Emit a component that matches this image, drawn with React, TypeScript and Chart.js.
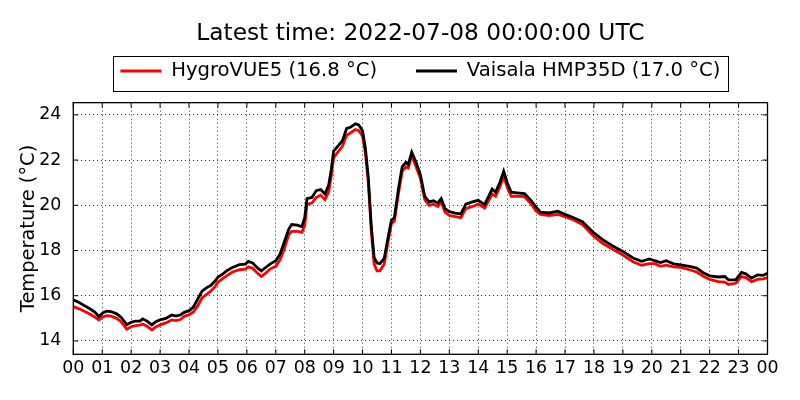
import { useEffect, useRef } from 'react';
import { Chart, registerables, type Plugin } from 'chart.js';

Chart.register(...registerables);

// hours since 2022-07-07 00:00 UTC
const times = [
  0, 0.2, 0.4, 0.6, 0.75, 0.88, 1, 1.15, 1.3, 1.5,
  1.65, 1.85, 2, 2.15, 2.3, 2.4, 2.55, 2.72, 2.85, 3,
  3.2, 3.4, 3.55, 3.7, 3.85, 4, 4.15, 4.3, 4.45, 4.6,
  4.75, 4.9, 5, 5.15, 5.3, 5.5, 5.75, 5.95, 6.05, 6.2,
  6.35, 6.5, 6.65, 6.8, 7, 7.15, 7.3, 7.45, 7.55, 7.75,
  7.9, 8, 8.08, 8.25, 8.4, 8.55, 8.7, 8.83, 8.92, 9,
  9.17, 9.3, 9.45, 9.58, 9.75, 9.87, 10, 10.1, 10.2, 10.3,
  10.4, 10.5, 10.6, 10.75, 10.87, 11, 11.1, 11.25, 11.37, 11.5,
  11.58, 11.7, 11.85, 12, 12.15, 12.3, 12.45, 12.6, 12.72, 12.85,
  13, 13.2, 13.4, 13.57, 13.8, 14, 14.22, 14.48, 14.6, 14.76,
  14.88, 15, 15.14, 15.35, 15.6, 15.8, 16, 16.15, 16.45, 16.75,
  17, 17.3, 17.6, 18, 18.3, 18.65, 19, 19.35, 19.65, 19.92,
  20.1, 20.3, 20.5, 20.75, 21, 21.3, 21.55, 21.8, 22, 22.3,
  22.53, 22.65, 22.9, 23.1, 23.25, 23.45, 23.65, 23.85, 24,
];

const hygroVUE5 = [
  15.52, 15.42, 15.30, 15.17, 15.05, 14.93, 15.05, 15.12, 15.10, 15.00,
  14.85, 14.52, 14.63, 14.68, 14.70, 14.75, 14.65, 14.49, 14.62, 14.71,
  14.80, 14.93, 14.90, 14.95, 15.10, 15.15, 15.28, 15.55, 15.90, 16.05,
  16.20, 16.40, 16.60, 16.75, 16.88, 17.05, 17.15, 17.18, 17.28, 17.22,
  17.02, 16.85, 17.00, 17.18, 17.30, 17.60, 18.10, 18.70, 18.85, 18.85,
  18.80, 19.10, 20.05, 20.10, 20.35, 20.45, 20.25, 20.60, 21.30, 22.10,
  22.40, 22.60, 23.10, 23.20, 23.35, 23.30, 23.05, 22.30, 21.00, 18.90,
  17.40, 17.10, 17.10, 17.40, 18.30, 19.20, 19.30, 20.60, 21.50, 21.70,
  21.65, 22.20, 21.70, 21.20, 20.25, 20.00, 20.05, 19.95, 20.15, 19.70,
  19.55, 19.50, 19.45, 19.85, 19.95, 20.05, 19.88, 20.50, 20.40, 20.85,
  21.30, 20.80, 20.40, 20.40, 20.38, 20.10, 19.75, 19.60, 19.55, 19.60,
  19.50, 19.35, 19.15, 18.62, 18.32, 18.05, 17.80, 17.50, 17.35, 17.42,
  17.42, 17.30, 17.35, 17.28, 17.25, 17.15, 17.05, 16.85, 16.72, 16.62,
  16.60, 16.50, 16.55, 16.85, 16.80, 16.62, 16.72, 16.75, 16.80,
];

const vaisalaHMP35D = [
  15.82, 15.70, 15.55, 15.40, 15.27, 15.08, 15.22, 15.32, 15.30, 15.20,
  15.05, 14.72, 14.83, 14.88, 14.88, 14.98, 14.88, 14.71, 14.85, 14.93,
  15.00, 15.15, 15.10, 15.15, 15.28, 15.33, 15.50, 15.85, 16.20, 16.35,
  16.45, 16.65, 16.82, 16.95, 17.10, 17.25, 17.38, 17.40, 17.52, 17.45,
  17.25, 17.10, 17.25, 17.40, 17.55, 17.85, 18.40, 18.95, 19.15, 19.12,
  19.05, 19.45, 20.30, 20.35, 20.65, 20.70, 20.50, 20.90, 21.60, 22.40,
  22.65, 22.85, 23.40, 23.45, 23.60, 23.55, 23.30, 22.50, 21.20, 19.10,
  17.70, 17.45, 17.42, 17.65, 18.50, 19.35, 19.45, 20.80, 21.70, 21.90,
  21.80, 22.35, 21.90, 21.35, 20.40, 20.15, 20.20, 20.10, 20.30, 19.85,
  19.72, 19.65, 19.62, 20.05, 20.15, 20.22, 20.03, 20.72, 20.58, 21.05,
  21.50, 21.00, 20.58, 20.55, 20.52, 20.25, 19.92, 19.70, 19.66, 19.74,
  19.60, 19.45, 19.28, 18.78, 18.48, 18.20, 17.96, 17.67, 17.52, 17.63,
  17.55, 17.47, 17.55, 17.41, 17.37, 17.30, 17.22, 17.00, 16.88, 16.83,
  16.85, 16.70, 16.70, 17.03, 16.97, 16.78, 16.92, 16.90, 17.00,
];

const hourTicks = [0, 1, 2, 3, 4, 5, 6, 7, 8, 9, 10, 11, 12, 13, 14, 15, 16, 17, 18, 19, 20, 21, 22, 23, 24];
const hourLabels = [
  '00', '01', '02', '03', '04', '05', '06', '07', '08', '09', '10', '11', '12',
  '13', '14', '15', '16', '17', '18', '19', '20', '21', '22', '23', '00',
];
const tempTicks = [14, 16, 18, 20, 22, 24];

const titleText = 'Latest time: 2022-07-08 00:00:00 UTC';

const toPoints = (values: number[]) => values.map((y, i) => ({ x: times[i], y }));
const last = (values: number[]) => values[values.length - 1].toFixed(1);

// matplotlib look: title + legend centred over the axes, framed legend,
// closed axes box and inward tick marks on all four sides
const mplFrame: Plugin<'line'> = {
  id: 'mplFrame',
  afterLayout(chart) {
    const area = chart.chartArea;
    const title = (chart as any).titleBlock;
    const legend = chart.legend as any;
    if (title) {
      title.left = area.left;
      title.right = area.right;
      title.width = area.right - area.left;
      title.top = 20.2;
      title.bottom = title.top + title.height;
    }
    if (legend) {
      legend.left = area.left;
      legend.right = area.right;
      legend.width = area.right - area.left;
      legend.top = 22.2;
      legend.bottom = legend.top + legend.height;
    }
  },
  afterDraw(chart) {
    const { ctx, chartArea: a } = chart;
    const x = chart.scales.x;
    const y = chart.scales.y;
    ctx.save();
    ctx.strokeStyle = '#000';
    ctx.lineWidth = 1;

    ctx.beginPath();
    x.ticks.forEach((t) => {
      const px = x.getPixelForValue(t.value);
      ctx.moveTo(px, a.bottom);
      ctx.lineTo(px, a.bottom - 5);
      ctx.moveTo(px, a.top);
      ctx.lineTo(px, a.top + 5);
    });
    y.ticks.forEach((t) => {
      const py = y.getPixelForValue(t.value);
      ctx.moveTo(a.left, py);
      ctx.lineTo(a.left + 5, py);
      ctx.moveTo(a.right, py);
      ctx.lineTo(a.right - 5, py);
    });
    ctx.stroke();

    ctx.lineWidth = 1.3;
    ctx.strokeRect(a.left, a.top, a.right - a.left, a.bottom - a.top);

    const boxes = (chart.legend as any)?.legendHitBoxes as
      | { left: number; top: number; width: number; height: number }[]
      | undefined;
    if (boxes && boxes.length) {
      const first = boxes[0];
      const end = boxes[boxes.length - 1];
      const left = first.left - 7.5;
      const right = end.left + end.width + 7.5;
      const top = first.top - 5.5;
      const bottom = first.top + first.height + 9.5;
      ctx.lineWidth = 1;
      ctx.strokeRect(Math.round(left) + 0.5, Math.round(top) + 0.5, Math.round(right - left), Math.round(bottom - top));
    }
    ctx.restore();
  },
};

export default function App() {
  const canvasRef = useRef<HTMLCanvasElement>(null);
  const chartRef = useRef<Chart | null>(null);

  useEffect(() => {
    if (!canvasRef.current) return;
    if (chartRef.current) chartRef.current.destroy();

    Chart.defaults.font.family = "'DejaVu Sans', sans-serif";
    Chart.defaults.color = '#000';

    chartRef.current = new Chart(canvasRef.current, {
      type: 'line',
      data: {
        datasets: [
          {
            label: `HygroVUE5 (${last(hygroVUE5)} °C)`,
            data: toPoints(hygroVUE5),
            borderColor: '#ff0000',
            backgroundColor: '#ff0000',
            borderWidth: 2.8,
            order: 2,
          },
          {
            label: `Vaisala HMP35D (${last(vaisalaHMP35D)} °C)`,
            data: toPoints(vaisalaHMP35D),
            borderColor: '#000000',
            backgroundColor: '#000000',
            borderWidth: 2.8,
            order: 1,
          },
        ],
      },
      options: {
        responsive: false,
        animation: false,
        layout: {
          padding: { top: 6.1, right: 32.5, bottom: 0, left: 0 },
        },
        elements: {
          point: { radius: 0, hoverRadius: 0 },
          line: { tension: 0 },
        },
        scales: {
          x: {
            type: 'linear',
            min: 0,
            max: 24,
            afterBuildTicks: (scale) => {
              scale.ticks = hourTicks.map((value) => ({ value }));
            },
            afterFit: (scale) => {
              scale.height = 45.7;
            },
            ticks: {
              autoSkip: false,
              maxRotation: 0,
              padding: 4,
              font: { size: 17.4 },
              callback: (value) => hourLabels[hourTicks.indexOf(Number(value))],
            },
            grid: {
              color: '#000',
              lineWidth: 0.8,
              drawTicks: false,
            },
            border: { display: false, dash: [1, 3] },
          },
          y: {
            min: 13.41,
            max: 24.54,
            afterBuildTicks: (scale) => {
              scale.ticks = tempTicks.map((value) => ({ value }));
            },
            afterFit: (scale) => {
              scale.width = 73.3;
            },
            ticks: {
              padding: 12,
              font: { size: 17.4 },
            },
            grid: {
              color: '#000',
              lineWidth: 0.8,
              drawTicks: false,
            },
            border: { display: false, dash: [1, 3] },
            title: {
              display: true,
              text: 'Temperature (°C)',
              font: { size: 19.4 },
              padding: { top: 17, bottom: 0 },
            },
          },
        },
        plugins: {
          title: {
            display: true,
            text: titleText,
            font: { size: 23.3, weight: 'normal' },
            padding: 0,
          },
          legend: {
            display: true,
            position: 'top',
            labels: {
              usePointStyle: true,
              pointStyle: 'line',
              pointStyleWidth: 41,
              padding: 39,
              font: { size: 19.6 },
              sort: (a, b) => (a.datasetIndex ?? 0) - (b.datasetIndex ?? 0),
            },
          },
          tooltip: { enabled: false },
        },
      },
      plugins: [mplFrame],
    });

    return () => {
      if (chartRef.current) {
        chartRef.current.destroy();
        chartRef.current = null;
      }
    };
  }, []);

  return (
    <div style={{ position: 'fixed', left: 0, top: 0, width: 800, height: 400, background: '#fff' }}>
      <canvas ref={canvasRef} width={800} height={400} />
    </div>
  );
}
